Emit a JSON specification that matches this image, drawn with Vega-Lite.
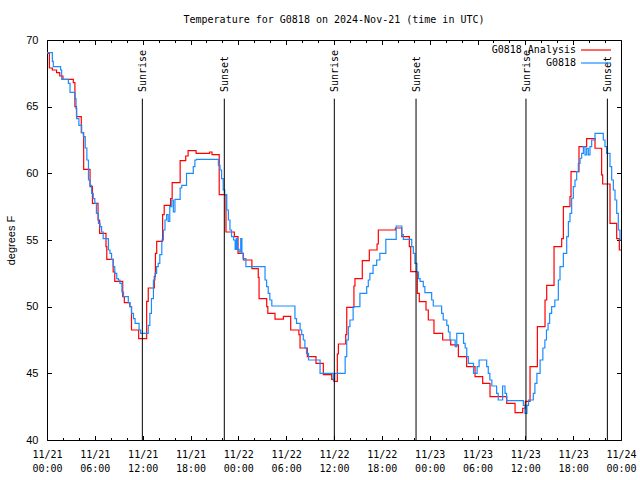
{
  "$schema": "https://vega.github.io/schema/vega-lite/v6.json",
  "width": 574,
  "height": 400,
  "autosize": {"type": "none"},
  "padding": {"left": 47, "top": 40, "right": 19, "bottom": 40},
  "background": "white",
  "title": {"text": "Temperature for G0818 on 2024-Nov-21 (time in UTC)", "font": "DejaVu Sans Mono", "fontSize": 10, "fontWeight": "normal", "color": "black", "anchor": "middle", "frame": "group", "offset": 9},
  "config": {
    "view": {"stroke": "black", "strokeWidth": 1},
    "legend": {"orient": "none", "legendX": 526.5, "legendY": 2.5, "padding": 0, "offset": 0, "title": null, "symbolType": "M-2.3,0H2.3", "symbolSize": 169, "symbolStrokeWidth": 1.2, "symbolFillColor": "transparent", "rowPadding": 0, "labelAlign": "right", "labelOffset": -27.5, "symbolOffset": 15, "labelFont": "DejaVu Sans Mono", "labelFontSize": 10, "labelColor": "black", "labelLimit": 0}
  },
  "datasets": {
    "analysis": [
      {"h": 0, "v": 69}, {"h": 0.3, "v": 67.9}, {"h": 0.67, "v": 67.75}, {"h": 1.2, "v": 67.55}, {"h": 1.6, "v": 67.3}, {"h": 2, "v": 67.05}, {"h": 3.3, "v": 66.8}, {"h": 3.5, "v": 65}, {"h": 3.7, "v": 64.25}, {"h": 4.3, "v": 63.05}, {"h": 4.6, "v": 60.3}, {"h": 5.4, "v": 59}, {"h": 5.7, "v": 57.75}, {"h": 6.4, "v": 56.5}, {"h": 6.6, "v": 55.5}, {"h": 7.4, "v": 54.5}, {"h": 7.5, "v": 53.55}, {"h": 8.3, "v": 52.6}, {"h": 8.5, "v": 51.9}, {"h": 9.5, "v": 50.75}, {"h": 9.7, "v": 50.3}, {"h": 10.4, "v": 50}, {"h": 10.6, "v": 48.25}, {"h": 11.5, "v": 47.6}, {"h": 12.5, "v": 50.4}, {"h": 12.7, "v": 51.4}, {"h": 13.46, "v": 52.25}, {"h": 13.6, "v": 54}, {"h": 13.76, "v": 54.9}, {"h": 14.5, "v": 56.9}, {"h": 14.7, "v": 57.6}, {"h": 15.5, "v": 58.1}, {"h": 15.7, "v": 59.3}, {"h": 16.7, "v": 60.95}, {"h": 17.4, "v": 61.3}, {"h": 17.7, "v": 61.7}, {"h": 18.7, "v": 61.5}, {"h": 20.4, "v": 61.6}, {"h": 20.7, "v": 61.4}, {"h": 21.6, "v": 58.4}, {"h": 22.45, "v": 55.6}, {"h": 23.5, "v": 55.25}, {"h": 23.96, "v": 54},
      {"h": 24.63, "v": 53.5}, {"h": 25.7, "v": 52.85}, {"h": 26.5, "v": 52.2}, {"h": 26.6, "v": 50.6}, {"h": 27.56, "v": 50}, {"h": 27.7, "v": 49.5}, {"h": 28.6, "v": 49.07}, {"h": 29.65, "v": 49.27}, {"h": 30.57, "v": 48.25}, {"h": 31.6, "v": 47.9}, {"h": 31.74, "v": 46.9}, {"h": 32.65, "v": 46.25}, {"h": 33.74, "v": 45.75}, {"h": 34.66, "v": 44.9}, {"h": 35.71, "v": 44.55}, {"h": 36, "v": 44.4}, {"h": 36.42, "v": 46.45}, {"h": 36.55, "v": 47.2}, {"h": 37.47, "v": 47.9}, {"h": 37.6, "v": 49.95}, {"h": 38.5, "v": 51.55}, {"h": 38.63, "v": 52.1}, {"h": 39.55, "v": 53.45}, {"h": 40.43, "v": 54.25}, {"h": 41.4, "v": 54.7}, {"h": 41.56, "v": 55.75}, {"h": 43.7, "v": 55.9}, {"h": 44.5, "v": 55.25}, {"h": 45.45, "v": 54.5}, {"h": 45.62, "v": 52.63}, {"h": 46.45, "v": 51}, {"h": 46.7, "v": 50.38}, {"h": 47.54, "v": 49.75}, {"h": 47.83, "v": 49},
      {"h": 48.54, "v": 48}, {"h": 49.63, "v": 47.5}, {"h": 50.64, "v": 47.13}, {"h": 51.6, "v": 46.25}, {"h": 52.64, "v": 45.5}, {"h": 53.69, "v": 44.75}, {"h": 54.65, "v": 44.25}, {"h": 55.57, "v": 43.25}, {"h": 57.67, "v": 42.75}, {"h": 58.71, "v": 42.05}, {"h": 59.67, "v": 42.38}, {"h": 60, "v": 42.9}, {"h": 60.59, "v": 45.5}, {"h": 61.51, "v": 48.5}, {"h": 62.47, "v": 50.5}, {"h": 62.68, "v": 51.6}, {"h": 63.6, "v": 54.5}, {"h": 64.56, "v": 55.1}, {"h": 64.77, "v": 57.5}, {"h": 65.6, "v": 58.25}, {"h": 65.73, "v": 60.13}, {"h": 66.73, "v": 62}, {"h": 67.69, "v": 62.6}, {"h": 68.74, "v": 61.88}, {"h": 69.57, "v": 59.88}, {"h": 69.7, "v": 59.2}, {"h": 70.62, "v": 56.25}, {"h": 71.46, "v": 55.1}, {"h": 71.79, "v": 54.25}, {"h": 72, "v": 54.25}
    ],
    "obs": [
      {"h": 0, "v": 69.05}, {"h": 0.67, "v": 68.4}, {"h": 0.79, "v": 68}, {"h": 1.71, "v": 67.75}, {"h": 1.84, "v": 67.05}, {"h": 2.68, "v": 66.75}, {"h": 2.89, "v": 66.07}, {"h": 3.51, "v": 65.6}, {"h": 3.64, "v": 64.85}, {"h": 3.72, "v": 64.1}, {"h": 4, "v": 63.6}, {"h": 4.35, "v": 63.05}, {"h": 4.56, "v": 62.75}, {"h": 4.8, "v": 61.9}, {"h": 5, "v": 61}, {"h": 5.2, "v": 59.5}, {"h": 5.4, "v": 59.1}, {"h": 5.6, "v": 58.5}, {"h": 5.8, "v": 58.1}, {"h": 6, "v": 57.75}, {"h": 6.2, "v": 57}, {"h": 6.45, "v": 56.25}, {"h": 6.65, "v": 56}, {"h": 6.85, "v": 55.6}, {"h": 7.05, "v": 55.1}, {"h": 7.7, "v": 54.25}, {"h": 7.9, "v": 54}, {"h": 8.1, "v": 53.55}, {"h": 8.3, "v": 53}, {"h": 8.5, "v": 52.5}, {"h": 8.75, "v": 52.1}, {"h": 8.95, "v": 52}, {"h": 9.15, "v": 51.75}, {"h": 9.4, "v": 51.1}, {"h": 9.6, "v": 50.75}, {"h": 10.2, "v": 50.3}, {"h": 10.4, "v": 50}, {"h": 10.6, "v": 49.5}, {"h": 10.85, "v": 49.1}, {"h": 11.05, "v": 48.75}, {"h": 11.55, "v": 48.25}, {"h": 11.75, "v": 48}, {"h": 12.7, "v": 48.6}, {"h": 12.9, "v": 49.5}, {"h": 13.1, "v": 50.6}, {"h": 13.35, "v": 52}, {"h": 13.55, "v": 52.5}, {"h": 13.75, "v": 53}, {"h": 13.95, "v": 53.25}, {"h": 14.15, "v": 53.9}, {"h": 14.4, "v": 55}, {"h": 14.6, "v": 55.75}, {"h": 14.8, "v": 56.5}, {"h": 15, "v": 56.9}, {"h": 15.2, "v": 56.4}, {"h": 15.4, "v": 57.5}, {"h": 15.65, "v": 58}, {"h": 15.85, "v": 57.1}, {"h": 16.05, "v": 58.05}, {"h": 16.7, "v": 58.9}, {"h": 16.9, "v": 59.1}, {"h": 17.5, "v": 60}, {"h": 18.35, "v": 60.5}, {"h": 18.55, "v": 61}, {"h": 18.75, "v": 61.05}, {"h": 21.5, "v": 60.6}, {"h": 21.7, "v": 60.25}, {"h": 21.9, "v": 59.6}, {"h": 22.1, "v": 58.75}, {"h": 22.3, "v": 58.4}, {"h": 22.55, "v": 57.25}, {"h": 22.75, "v": 56.5}, {"h": 22.95, "v": 55.75}, {"h": 23.15, "v": 55.25}, {"h": 23.4, "v": 55}, {"h": 23.6, "v": 54.3}, {"h": 23.75, "v": 55.1}, {"h": 23.9, "v": 54.3},
      {"h": 24.1, "v": 54.1}, {"h": 24.3, "v": 55.1}, {"h": 24.45, "v": 54}, {"h": 24.6, "v": 53.6}, {"h": 24.95, "v": 53}, {"h": 27.35, "v": 52}, {"h": 27.55, "v": 51.5}, {"h": 27.75, "v": 51}, {"h": 27.95, "v": 50.5}, {"h": 28.2, "v": 50.05}, {"h": 31.1, "v": 49.1}, {"h": 31.3, "v": 48.75}, {"h": 31.75, "v": 48.25}, {"h": 31.95, "v": 47.9}, {"h": 32.15, "v": 47.5}, {"h": 32.35, "v": 46.9}, {"h": 32.55, "v": 46.5}, {"h": 32.8, "v": 46}, {"h": 34.25, "v": 45}, {"h": 35.9, "v": 44.5}, {"h": 36.1, "v": 45}, {"h": 37.4, "v": 46.25}, {"h": 37.6, "v": 47.5}, {"h": 37.8, "v": 48.5}, {"h": 38, "v": 49}, {"h": 38.4, "v": 50}, {"h": 39.25, "v": 51}, {"h": 40.1, "v": 51.5}, {"h": 40.3, "v": 52}, {"h": 40.5, "v": 52.5}, {"h": 40.9, "v": 53.1}, {"h": 41.35, "v": 53.5}, {"h": 41.75, "v": 54}, {"h": 42.5, "v": 55.05}, {"h": 43.8, "v": 56.05}, {"h": 44.5, "v": 55.4}, {"h": 44.7, "v": 55.05}, {"h": 45.75, "v": 54.5}, {"h": 45.95, "v": 54}, {"h": 46.15, "v": 53.25}, {"h": 46.4, "v": 52.6}, {"h": 46.6, "v": 52.1}, {"h": 46.8, "v": 51.9}, {"h": 47.2, "v": 51.5}, {"h": 47.4, "v": 51.05},
      {"h": 48.25, "v": 50.5}, {"h": 48.45, "v": 50.05}, {"h": 49.5, "v": 49.5}, {"h": 49.7, "v": 49}, {"h": 50.15, "v": 48.6}, {"h": 50.35, "v": 48.1}, {"h": 50.55, "v": 47.5}, {"h": 51.2, "v": 47}, {"h": 51.4, "v": 48}, {"h": 52.25, "v": 47.25}, {"h": 52.45, "v": 46.9}, {"h": 52.65, "v": 46.25}, {"h": 52.85, "v": 45.75}, {"h": 53.5, "v": 45}, {"h": 53.95, "v": 45.5}, {"h": 54.2, "v": 46}, {"h": 55.15, "v": 45.5}, {"h": 55.35, "v": 45}, {"h": 55.55, "v": 44.5}, {"h": 55.8, "v": 44.05}, {"h": 56.4, "v": 43.5}, {"h": 56.6, "v": 43}, {"h": 57.15, "v": 44.05}, {"h": 57.45, "v": 43.5}, {"h": 57.65, "v": 42.95}, {"h": 59.75, "v": 42.6}, {"h": 59.95, "v": 42}, {"h": 60.2, "v": 42.6}, {"h": 60.4, "v": 43}, {"h": 61, "v": 43.5}, {"h": 61.2, "v": 44.25}, {"h": 61.45, "v": 45}, {"h": 61.85, "v": 46}, {"h": 62.2, "v": 46.9}, {"h": 62.45, "v": 47.5}, {"h": 62.65, "v": 48.25}, {"h": 62.85, "v": 48.75}, {"h": 63.05, "v": 49.5}, {"h": 63.3, "v": 50}, {"h": 63.7, "v": 50.5}, {"h": 64.14, "v": 52}, {"h": 64.35, "v": 53}, {"h": 64.77, "v": 54}, {"h": 65.19, "v": 55.25}, {"h": 65.4, "v": 56.38}, {"h": 65.6, "v": 57}, {"h": 65.81, "v": 58.13}, {"h": 66.02, "v": 59}, {"h": 66.23, "v": 59.5}, {"h": 66.44, "v": 60.13}, {"h": 66.65, "v": 60.75}, {"h": 66.86, "v": 61.13}, {"h": 67.07, "v": 61.5}, {"h": 67.28, "v": 62}, {"h": 67.48, "v": 61.38}, {"h": 67.69, "v": 61.88}, {"h": 67.9, "v": 61.38}, {"h": 68.11, "v": 62}, {"h": 68.32, "v": 62.5}, {"h": 68.74, "v": 63}, {"h": 69.78, "v": 62.5}, {"h": 69.99, "v": 62}, {"h": 70.2, "v": 61.5}, {"h": 70.62, "v": 60.5}, {"h": 70.83, "v": 59.5}, {"h": 71.04, "v": 58.75}, {"h": 71.25, "v": 58}, {"h": 71.46, "v": 57}, {"h": 71.66, "v": 55.75}, {"h": 71.87, "v": 55}, {"h": 72, "v": 55}
    ],
    "sun": [
      {"h": 11.96, "label": "Sunrise"},
      {"h": 22.24, "label": "Sunset"},
      {"h": 36.04, "label": "Sunrise"},
      {"h": 46.29, "label": "Sunset"},
      {"h": 60.08, "label": "Sunrise"},
      {"h": 70.29, "label": "Sunset"}
    ]
  },
  "resolve": {"axis": {"x": "independent", "y": "independent"}},
  "layer": [
    {
      "data": {"name": "analysis"},
      "mark": {"type": "line", "interpolate": "step-after", "strokeWidth": 1.2, "clip": true},
      "encoding": {
        "x": {"field": "h", "type": "quantitative",
          "scale": {"domain": [0, 72], "nice": false, "zero": false},
          "axis": {"orient": "bottom", "title": null, "grid": false, "domain": false,
            "values": [0, 6, 12, 18, 24, 30, 36, 42, 48, 54, 60, 66, 72],
            "labelExpr": "[['11/21', '11/22', '11/23', '11/24'][floor(datum.value / 24)], (datum.value % 24 < 10 ? '0' : '') + (datum.value % 24) + ':00']",
            "tickSize": -4.5,
            "tickColor": "black", "tickWidth": 1, "labelFont": "DejaVu Sans Mono", "labelFontSize": 10, "labelColor": "black", "labelPadding": 13.5, "labelLineHeight": 14, "labelFlush": false, "labelOverlap": false, "labelBound": false}},
        "y": {"field": "v", "type": "quantitative",
          "scale": {"domain": [40, 70], "nice": false, "zero": false},
          "axis": {"orient": "left", "values": [40, 45, 50, 55, 60, 65, 70], "grid": false, "domain": false, "tickSize": -4.5, "tickColor": "black",
            "labelFont": "Liberation Sans", "labelFontSize": 11, "labelColor": "black", "labelPadding": 13.5, "labelFlush": false, "labelOverlap": false,
            "title": "degrees F", "titleFont": "Liberation Sans", "titleFontSize": 11, "titleFontWeight": "normal", "titleColor": "black", "titleAngle": 270, "titleAlign": "center", "titleBaseline": "middle", "titleX": -36, "titleY": 200}},
        "color": {"datum": "G0818 Analysis", "type": "nominal", "scale": {"domain": ["G0818 Analysis", "G0818"], "range": ["#ff0000", "#1a8cff"]}}
      }
    },
    {
      "data": {"name": "obs"},
      "mark": {"type": "line", "interpolate": "step-after", "strokeWidth": 1.2, "clip": true},
      "encoding": {
        "x": {"field": "h", "type": "quantitative",
          "axis": {"orient": "bottom", "title": null, "labels": false, "grid": false, "domain": false, "values": [2, 4, 8, 10, 14, 16, 20, 22, 26, 28, 32, 34, 38, 40, 44, 46, 50, 52, 56, 58, 62, 64, 68, 70], "tickSize": -2.5, "tickColor": "black"}},
        "y": {"field": "v", "type": "quantitative", "axis": null},
        "color": {"datum": "G0818", "type": "nominal"}
      }
    },
    {
      "data": {"name": "sun"},
      "mark": {"type": "rule", "color": "black", "strokeWidth": 1},
      "encoding": {
        "x": {"field": "h", "type": "quantitative",
          "axis": {"orient": "top", "title": null, "labels": false, "grid": false, "domain": false, "values": [0, 6, 12, 18, 24, 30, 36, 42, 48, 54, 60, 66, 72], "tickSize": -4.5, "tickColor": "black"}},
        "y": {"datum": 40, "type": "quantitative",
          "axis": {"orient": "right", "title": null, "labels": false, "values": [40, 45, 50, 55, 60, 65, 70], "grid": false, "domain": false, "tickSize": -4.5, "tickColor": "black"}},
        "y2": {"datum": 65.6}
      }
    },
    {
      "data": {"name": "sun"},
      "mark": {"type": "text", "angle": 270, "align": "left", "baseline": "middle", "dy": 1, "font": "DejaVu Sans Mono", "fontSize": 10, "color": "black"},
      "encoding": {
        "x": {"field": "h", "type": "quantitative",
          "axis": {"orient": "top", "title": null, "labels": false, "grid": false, "domain": false, "values": [2, 4, 8, 10, 14, 16, 20, 22, 26, 28, 32, 34, 38, 40, 44, 46, 50, 52, 56, 58, 62, 64, 68, 70], "tickSize": -2.5, "tickColor": "black"}},
        "y": {"datum": 66.1, "type": "quantitative", "axis": null},
        "text": {"field": "label"}
      }
    }
  ]
}
